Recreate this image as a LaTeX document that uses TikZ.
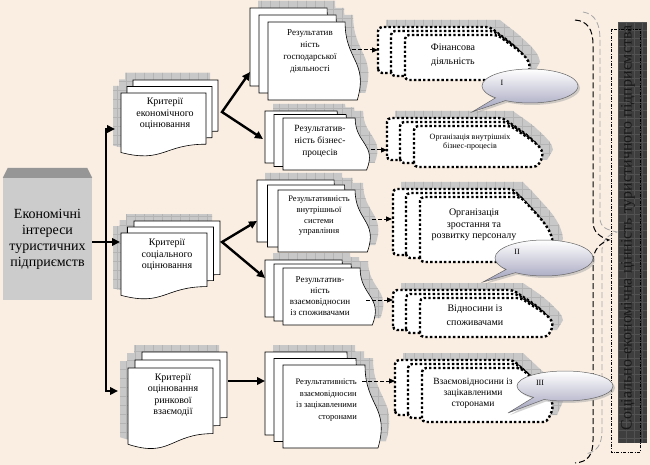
\documentclass[tikz,border=0pt]{standalone}
\usepackage{fontspec}
\setmainfont{Liberation Serif}
\usetikzlibrary{arrows.meta,shapes.callouts,shadows}

\definecolor{paper}{RGB}{250,238,227}
\definecolor{shadefill}{RGB}{200,200,200}
\definecolor{shadegrid}{RGB}{180,180,180}
\definecolor{boxgray}{RGB}{204,204,204}
\definecolor{boxtop}{RGB}{150,150,150}
\definecolor{bardark}{RGB}{62,62,62}
\definecolor{bargrid}{RGB}{82,82,82}
\definecolor{bubblecol}{RGB}{160,160,188}

% sheet with wavy bottom: x, y, width, height
\newcommand{\docsheet}[4]{(#1,#2) -- (#1+#3,#2) -- (#1+#3,#2+0.8*#4)
  .. controls (#1+0.5*#3,#2+0.8*#4) and (#1+0.5*#3,#2+1.1*#4) .. (#1,#2+0.93*#4) -- cycle}
% sheet with wavy right side: x, y, width, height
\newcommand{\wavesheet}[4]{(#1,#2) -- (#1+0.82*#3,#2)
  .. controls (#1+0.82*#3,#2+0.5*#4) and (#1+1.07*#3,#2+0.5*#4) .. (#1+0.95*#3,#2+#4) -- (#1,#2+#4) -- cycle}
% tag with slanted right side: left, top, right, bottom
\newcommand{\tagsheet}[4]{({#1},{#4}) -- ({#1},{#2}) -- ({#3-32},{#2})
  .. controls ({#3-18},{0.75*(#2)+0.25*(#4)}) and ({#3-2},{0.55*(#2)+0.45*(#4)}) .. ({#3},{0.25*(#2)+0.75*(#4)}) -- ({#3-6},{#4}) -- cycle}

% gray grid shadow clipped to a path
\newcommand{\gridshadow}[1]{%
  \begin{scope}
    \clip #1;
    \fill[shadefill] (0,0) rectangle (650,465);
    \foreach \gx in {0,9,...,650} \draw[shadegrid, line width=0.5pt] (\gx,0) -- (\gx,465);
    \foreach \gy in {0,9,...,465} \draw[shadegrid, line width=0.5pt] (0,\gy) -- (650,\gy);
  \end{scope}}

% stack of three sheets, front at x, y; back offset dx, dy
\newcommand{\critstack}[6]{%
  \gridshadow{\docsheet{#1+#5-8}{#2-#6-7}{#3}{#4} \docsheet{#1+0.5*#5-8}{#2-0.5*#6-7}{#3}{#4} \docsheet{#1-8}{#2-7}{#3}{#4}}
  \filldraw[sheet] \docsheet{#1+#5}{#2-#6}{#3}{#4};
  \filldraw[sheet] \docsheet{#1+0.5*#5}{#2-0.5*#6}{#3}{#4};
  \filldraw[sheet] \docsheet{#1}{#2}{#3}{#4};}
\newcommand{\resstack}[6]{%
  \gridshadow{\wavesheet{#1-#5+8}{#2-#6-7}{#3}{#4} \wavesheet{#1-0.5*#5+8}{#2-0.5*#6-7}{#3}{#4} \wavesheet{#1+8}{#2-7}{#3}{#4}}
  \filldraw[sheet] \wavesheet{#1-#5}{#2-#6}{#3}{#4};
  \filldraw[sheet] \wavesheet{#1-0.5*#5}{#2-0.5*#6}{#3}{#4};
  \filldraw[sheet] \wavesheet{#1}{#2}{#3}{#4};}
\newcommand{\tagstack}[4]{%
  \gridshadow{\tagsheet{#1+8}{#2-7}{#3+10}{#4-7} \tagsheet{#1+21}{#2-3}{#3+14}{#4-4} \tagsheet{#1+35}{#2+1}{#3+18}{#4}}
  \filldraw[dotline] \tagsheet{#1}{#2}{#3}{#4};
  \filldraw[dotline] \tagsheet{#1+13}{#2+4}{#3+4}{#4+3};
  \filldraw[dotline] \tagsheet{#1+27}{#2+8}{#3+8}{#4+7};}

\begin{document}
\begin{tikzpicture}[x=1pt,y=-1pt,
    sheet/.style={fill=white, draw=black, line width=0.6pt},
    dotline/.style={fill=white, draw=black, line width=2.4pt, dash pattern=on 2.4pt off 2.2pt, rounded corners=4pt},
    trunk/.style={line width=2.4pt, >={Triangle[length=8pt,width=7.5pt]}},
    dasharrow/.style={line width=1pt, dash pattern=on 3.5pt off 2.5pt, -{Triangle[length=6pt,width=5pt]}},
    econbox/.style={fill=boxgray, minimum width=89pt, minimum height=122pt, inner sep=0pt, align=center, font=\fontsize{14}{16}\selectfont},
    crittext/.style={align=center, font=\fontsize{10}{11.5}\selectfont, inner sep=0pt},
    restext/.style={align=center, font=\fontsize{9}{12}\selectfont, inner sep=0pt},
    tagtext/.style={align=center, font=\fontsize{10}{13.5}\selectfont, inner sep=0pt},
    bubble/.style={ellipse callout, draw=black!60, line width=0.5pt, top color=white, bottom color=bubblecol,
      drop shadow={shadow xshift=2pt, shadow yshift=-2pt, fill=black!35}, inner sep=0pt},
    bubbletext/.style={font=\fontsize{8}{8}\selectfont, inner sep=0pt}]
  \useasboundingbox (0,0) rectangle (650,465);
  \fill[paper] (0,0) rectangle (650,465);

  % value bar
  \begin{scope}
    \clip (618,22) rectangle (647,443);
    \fill[bardark] (618,22) rectangle (647,443);
    \foreach \gy in {22,30,...,443} \draw[bargrid, line width=0.5pt] (618,\gy) -- (647,\gy);
    \foreach \gx in {618,626,...,647} \draw[bargrid, line width=0.5pt] (\gx,22) -- (\gx,443);
  \end{scope}
  \draw[line width=0.6pt, dash pattern=on 3pt off 1.5pt on 0.8pt off 1.5pt] (611,29) rectangle (640,452);
  \node[rotate=90, font=\fontsize{16}{16}\selectfont, text=black!90, inner sep=0pt] (value) at (628,228)
    {Соціально-економічна цінність туристичного підприємства};

  % braces
  \draw[black!35, line width=0.8pt, dash pattern=on 6pt off 3pt] (583,12) .. controls (596,14) and (600,25) .. (600,40)
    -- (600,218) .. controls (600,228) and (608,230) .. (617,232) .. controls (608,235) and (602,240) .. (602,250)
    -- (602,430) .. controls (602,445) and (597,452) .. (585,454);
  \draw[line width=1pt, dash pattern=on 6pt off 3pt] (575,20) .. controls (588,21) and (593,30) .. (593,45)
    -- (593,222) .. controls (593,232) and (600,237) .. (609,240) .. controls (600,243) and (593,250) .. (593,262)
    -- (593,440) .. controls (593,455) and (588,462) .. (575,463);

  % left box
  \node[econbox] (econ) at (47.5,239) {Економічні\\інтереси\\туристичних\\підприємств};
  \fill[boxtop] (econ.north west) -- (econ.north east) -- ([shift={(-5pt,10pt)}]econ.north east)
    -- ([shift={(5pt,10pt)}]econ.north west) -- cycle;

  % stacks
  \critstack{121}{93}{85}{64}{12}{13}
  \critstack{121}{233}{86}{67}{13}{12}
  \critstack{128}{368}{85}{82}{14}{16}

  \resstack{268}{22}{94}{78}{18}{14}
  \resstack{283}{118}{88}{52}{18}{7}
  \resstack{278}{190}{94}{62}{21}{10}
  \resstack{283}{268}{94}{57}{18}{8}
  \resstack{283}{365}{100}{83}{18}{13}

  \tagstack{378}{27}{522}{73}
  \tagstack{387}{118}{535}{160}
  \tagstack{393}{189}{545}{255}
  \tagstack{393}{290}{545}{330}
  \tagstack{395}{360}{545}{415}

  % texts
  \node[crittext] (crit1) at (165,114) {Критерії\\економічного\\оцінювання};
  \node[crittext] (crit2) at (167,255) {Критерії\\соціального\\оцінювання};
  \node[crittext] (crit3) at (173,395) {Критерії\\оцінювання\\ринкової\\взаємодії};

  \node[restext] (resA) at (310,51) {Результатив\\ність\\господарської\\діяльності};
  \node[restext, font=\fontsize{9.5}{12}\selectfont] (resB) at (320,141) {Результатив-\\ність бізнес-\\процесів};
  \node[restext, font=\fontsize{8.5}{10.7}\selectfont] (resC) at (319,216) {Результативність\\внутрішньої\\системи\\управління};
  \node[restext, font=\fontsize{9}{11}\selectfont] (resD) at (320,296) {Результатив-\\ність\\взаємовідносин\\із споживачами};
  \node[restext, align=right, anchor=east, font=\fontsize{8.5}{11.5}\selectfont] (resE) at (357,400) {Результативність\\взаємовідносин\\із зацікавленими\\сторонами};

  \node[tagtext] (fin) at (453,55) {Фінансова\\діяльність};
  \node[tagtext, font=\fontsize{8}{9.5}\selectfont] (biz) at (470,142) {Організація внутрішніх\\бізнес-процесів};
  \node[tagtext, font=\fontsize{10}{11.7}\selectfont] (staff) at (474,225) {Організація\\зростання та\\розвитку персоналу};
  \node[tagtext] (cust) at (475,315) {Відносини із\\споживачами};
  \node[tagtext, font=\fontsize{9.5}{11}\selectfont] (stake) at (473,393) {Взаємовідносини із\\зацікавленими\\сторонами};

  % thick connectors
  \coordinate (in1) at (115,129);
  \coordinate (in2) at (120,242);
  \coordinate (in3) at (118,391);
  \coordinate (t1) at (106,129);
  \coordinate (t3) at (106,391);
  \draw[trunk,->] (econ.east |- in2) -- (in2);
  \draw[trunk,<->] (in1) -- (t1) -- (t3) -- (in3);

  \coordinate (k1) at (222,112);
  \coordinate (toA) at (250,72);
  \coordinate (toB) at (263,139);
  \draw[trunk,<->] (toA) -- (k1) -- (toB);
  \coordinate (k2) at (222,242);
  \coordinate (toC) at (257,221);
  \coordinate (toD) at (265,278);
  \draw[trunk,<->] (toC) -- (k2) -- (toD);
  \coordinate (k3) at (228,381);
  \coordinate (toE) at (265,381);
  \draw[trunk,->] (k3) -- (toE);

  % dashed connectors
  \coordinate (outA) at (352,50);  \coordinate (fin-in) at (378,50);
  \coordinate (outB) at (371,150); \coordinate (biz-in) at (387,150);
  \coordinate (outC) at (372,219); \coordinate (staff-in) at (392,219);
  \coordinate (outD) at (366,300); \coordinate (cust-in) at (393,300);
  \coordinate (outE) at (362,381); \coordinate (stake-in) at (395,381);
  \draw[dasharrow] (outA) -- (fin-in);
  \draw[dasharrow] (outB) -- (biz-in);
  \draw[dasharrow] (outC) -- (staff-in);
  \draw[dasharrow] (outD) -- (cust-in);
  \draw[dasharrow] (outE) -- (stake-in);

  % callouts
  \node[bubble, minimum width=96pt, minimum height=34pt, callout absolute pointer={(472,112)}] (c1) at (530,86) {};
  \node[bubbletext] (c1-label) at (502,83) {I};
  \node[bubble, minimum width=98pt, minimum height=36pt, callout absolute pointer={(483,282)}] (c2) at (544,258) {};
  \node[bubbletext] (c2-label) at (517,252) {II};
  \node[bubble, minimum width=96pt, minimum height=30pt, callout absolute pointer={(508,413)}] (c3) at (565,386) {};
  \node[bubbletext] (c3-label) at (540,383) {III};
\end{tikzpicture}
\end{document}
